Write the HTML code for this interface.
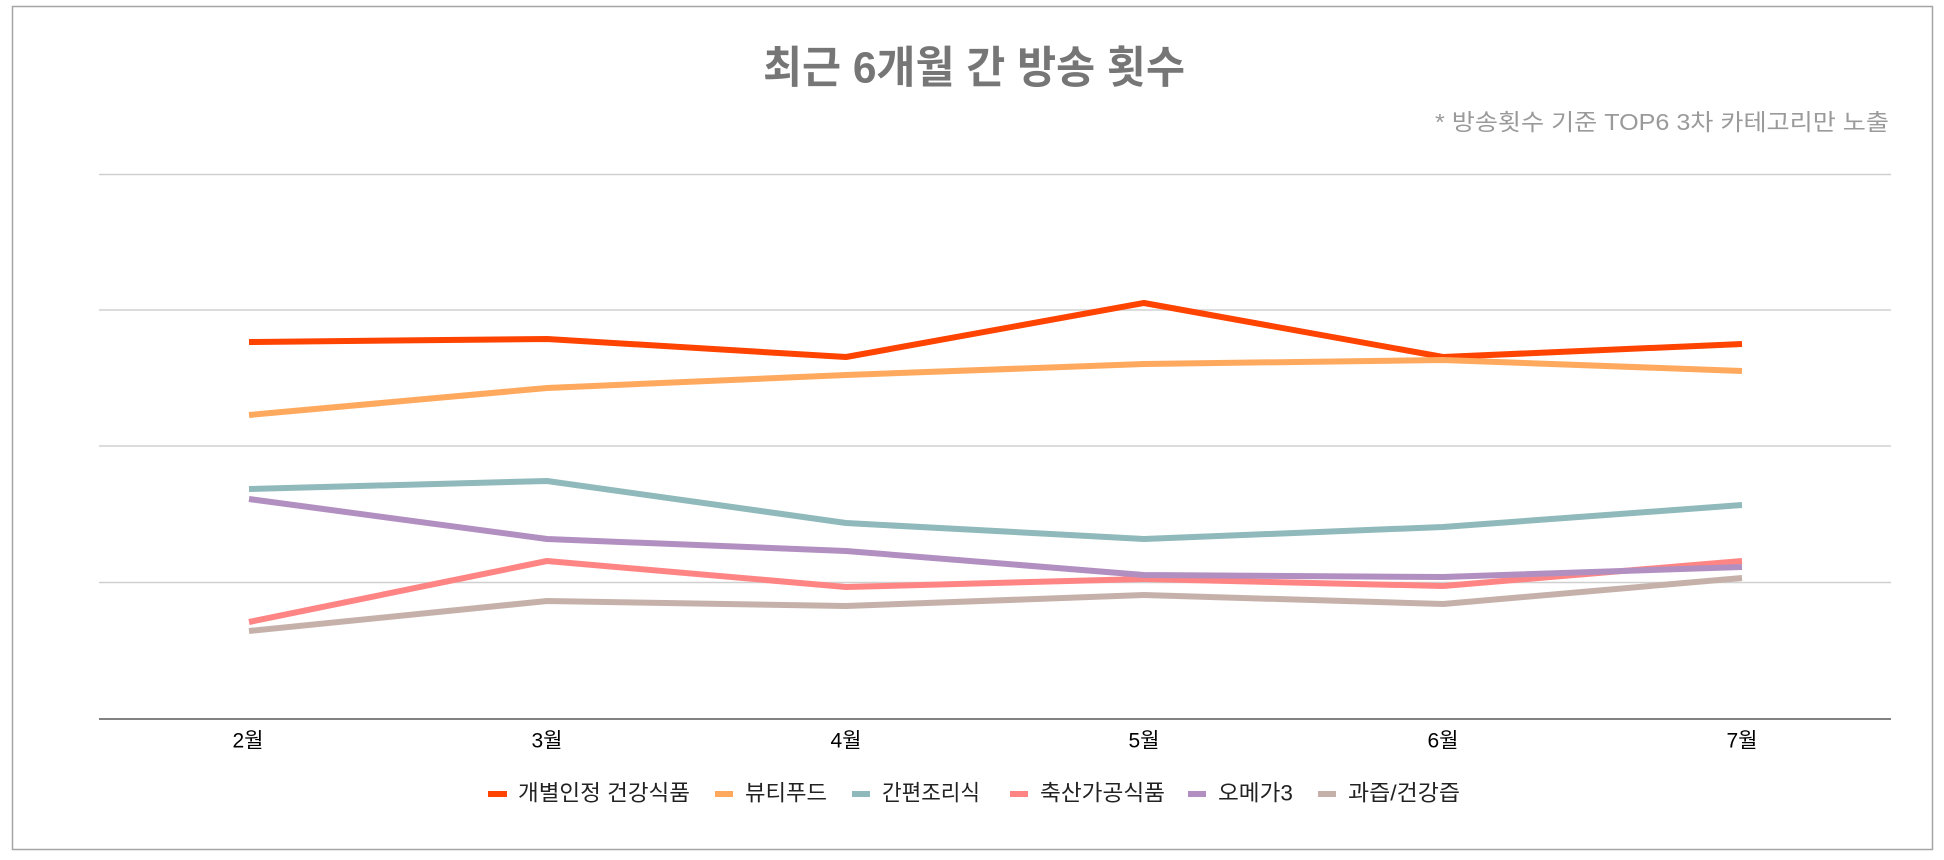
<!DOCTYPE html>
<html>
<head>
<meta charset="utf-8">
<style>
  html, body { margin:0; padding:0; background:#ffffff; }
  body { width:1944px; height:860px; overflow:hidden; }
  svg { display:block; }
  text { font-family: "Liberation Sans", "Noto Sans CJK KR", sans-serif; }
</style>
</head>
<body>
<svg width="1944" height="860" viewBox="0 0 1944 860" xmlns="http://www.w3.org/2000/svg">
  <rect x="0" y="0" width="1944" height="860" fill="#ffffff"/>
  <!-- outer border -->
  <rect x="12.5" y="6.5" width="1920" height="843" fill="none" stroke="#a6a6a6" stroke-width="1.5"/>

  <!-- title -->
  <text x="974" y="68" text-anchor="middle" dominant-baseline="central" font-size="44" font-weight="bold" fill="#767676" textLength="422" lengthAdjust="spacingAndGlyphs">최근 6개월 간 방송 횟수</text>
  <!-- subtitle -->
  <text x="1889" y="122" text-anchor="end" dominant-baseline="central" font-size="23" fill="#9a9a9a" textLength="454" lengthAdjust="spacingAndGlyphs">* 방송횟수 기준 TOP6 3차 카테고리만 노출</text>

  <!-- gridlines -->
  <g stroke="#d0d0d0" stroke-width="1.5">
    <line x1="99" y1="174.5" x2="1891" y2="174.5"/>
    <line x1="99" y1="310" x2="1891" y2="310"/>
    <line x1="99" y1="446" x2="1891" y2="446"/>
    <line x1="99" y1="582.5" x2="1891" y2="582.5"/>
  </g>
  <!-- axis -->
  <line x1="99" y1="719" x2="1891" y2="719" stroke="#595959" stroke-width="1.5"/>

  <!-- x labels -->
  <g font-size="21" fill="#000000" text-anchor="middle" dominant-baseline="central">
    <text x="248" y="741">2월</text>
    <text x="547" y="741">3월</text>
    <text x="846" y="741">4월</text>
    <text x="1144" y="741">5월</text>
    <text x="1443" y="741">6월</text>
    <text x="1742" y="741">7월</text>
  </g>

  <!-- series -->
  <g fill="none" stroke-width="6" stroke-linejoin="round" stroke-linecap="butt">
    <polyline stroke="#FF4300" points="249,342 547,339 846,357 1144,303 1443,357 1742,344"/>
    <polyline stroke="#FFA95E" points="249,415 547,388 846,375 1144,364 1443,360 1742,371"/>
    <polyline stroke="#8FB9BA" points="249,489 547,481 846,523 1144,539 1443,527 1742,505"/>
    <polyline stroke="#FF8585" points="249,622 547,561 846,587 1144,579 1443,586 1742,561"/>
    <polyline stroke="#B28FC1" points="249,499 547,539 846,551 1144,575 1443,577 1742,567"/>
    <polyline stroke="#C6B1AA" points="249,631 547,601 846,606 1144,595 1443,604 1742,578"/>
  </g>

  <!-- legend -->
  <g>
    <rect x="488" y="791" width="19" height="6" fill="#FF4300"/>
    <rect x="715" y="791" width="18" height="6" fill="#FFA95E"/>
    <rect x="852" y="791" width="18" height="6" fill="#8FB9BA"/>
    <rect x="1010" y="791" width="18" height="6" fill="#FF8585"/>
    <rect x="1188" y="791" width="18" height="6" fill="#B28FC1"/>
    <rect x="1318" y="791" width="18" height="6" fill="#C6B1AA"/>
  </g>
  <g font-size="22" fill="#222222" dominant-baseline="central">
    <text x="518" y="793" textLength="172" lengthAdjust="spacingAndGlyphs">개별인정 건강식품</text>
    <text x="745" y="793" textLength="82" lengthAdjust="spacingAndGlyphs">뷰티푸드</text>
    <text x="882" y="793" textLength="98" lengthAdjust="spacingAndGlyphs">간편조리식</text>
    <text x="1040" y="793" textLength="125" lengthAdjust="spacingAndGlyphs">축산가공식품</text>
    <text x="1218" y="793" textLength="75" lengthAdjust="spacingAndGlyphs">오메가3</text>
    <text x="1348" y="793" textLength="112" lengthAdjust="spacingAndGlyphs">과즙/건강즙</text>
  </g>
</svg>
</body>
</html>
